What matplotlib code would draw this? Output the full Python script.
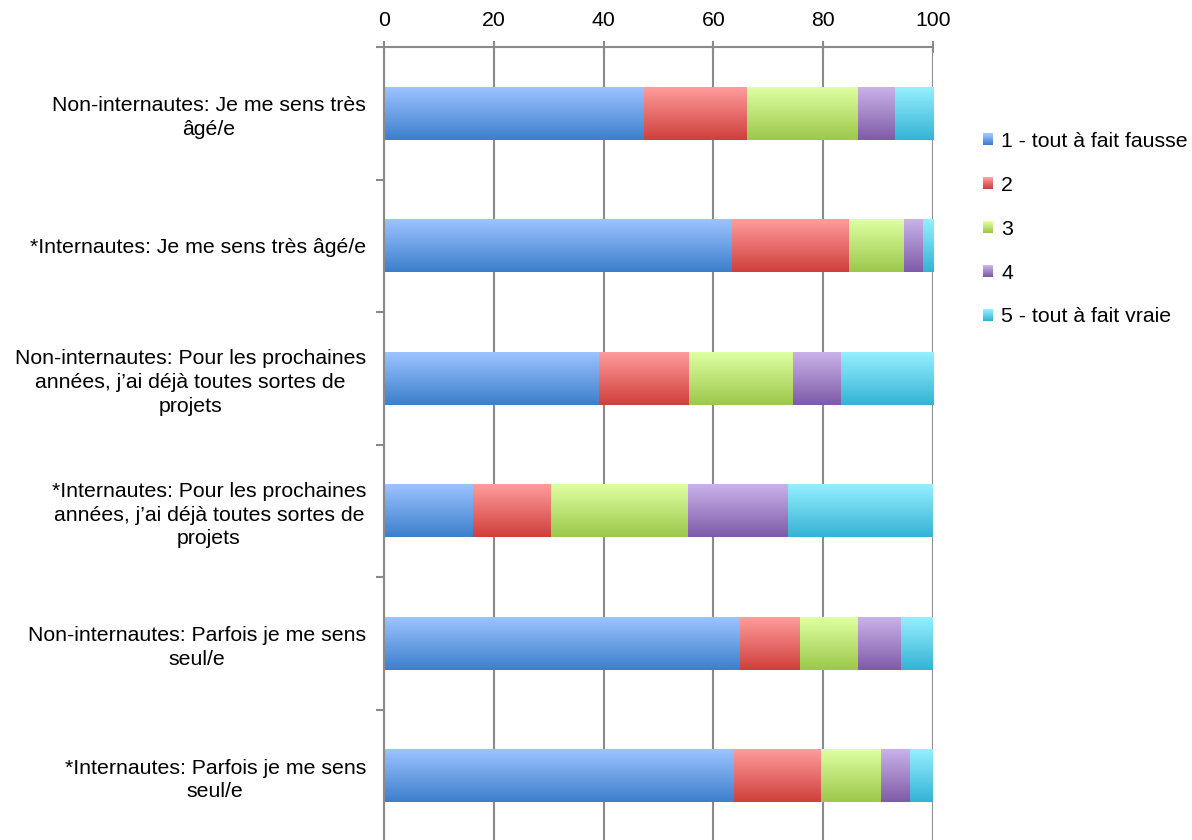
import numpy as np
import matplotlib
matplotlib.use("Agg")
import matplotlib.pyplot as plt
from matplotlib.patches import Rectangle
from matplotlib.legend_handler import HandlerBase
from matplotlib.colors import to_rgb

plt.rcParams['font.family'] = ['Liberation Sans', 'DejaVu Sans']

categories = [
    "Non-internautes: Je me sens très\nâgé/e",
    "*Internautes: Je me sens très âgé/e",
    "Non-internautes: Pour les prochaines\nannées, j’ai déjà toutes sortes de\nprojets",
    "*Internautes: Pour les prochaines\nannées, j’ai déjà toutes sortes de\nprojets",
    "Non-internautes: Parfois je me sens\nseul/e",
    "*Internautes: Parfois je me sens\nseul/e",
]
series_names = ["1 - tout à fait fausse", "2", "3", "4", "5 - tout à fait vraie"]
s1 = [47.4, 63.3, 39.2, 16.2, 64.8, 63.7]
s2 = [18.7, 21.4, 16.4, 14.3, 11.0, 15.9]
s3 = [20.2, 10.0, 18.9, 24.9, 10.5, 10.9]
s4 = [6.7, 3.4, 8.7, 18.2, 7.9, 5.4]
s5 = [7.0, 1.9, 16.8, 26.4, 5.8, 4.1]
x_ticks = [0, 20, 40, 60, 80, 100]

# gradient colours (top, bottom) for each series
grad = [
    ("#9cc3ff", "#3d7fcc"),
    ("#ff9c9c", "#cf3f3c"),
    ("#deffa2", "#9cc84b"),
    ("#c9b2ea", "#7e5ba7"),
    ("#96efff", "#35b3d5"),
]

FS = 15.3


def ramp(top, bottom, n=64):
    t = np.linspace(0, 1, n)[:, None]
    a, b = np.array(to_rgb(top)), np.array(to_rgb(bottom))
    col = a * (1 - t) + b * t
    return np.repeat(col[:, None, :], 2, axis=1)


class GradientHandler(HandlerBase):
    def create_artists(self, legend, orig_handle, xdescent, ydescent,
                       width, height, fontsize, trans):
        top, bottom = orig_handle.grad
        n = 12
        arts = []
        a, b = np.array(to_rgb(top)), np.array(to_rgb(bottom))
        for i in range(n):
            t = i / (n - 1)
            c = a * t + b * (1 - t)
            arts.append(Rectangle((-xdescent, -ydescent + height * i / n), width,
                                  height / n + 0.3, facecolor=c, edgecolor='none',
                                  transform=trans))
        return arts


fig = plt.figure(figsize=(11.92, 8.40), dpi=100)
ax = fig.add_axes([384 / 1192, (840 - 842) / 840, (933 - 384) / 1192, (842 - 47) / 840])

y = np.arange(len(categories))
h = 0.4
left = np.zeros(len(categories))
handles = []
for vals, name, (ctop, cbot) in zip([s1, s2, s3, s4, s5], series_names, grad):
    bars = ax.barh(y, vals, height=h, left=left, color=cbot, edgecolor='none',
                   zorder=2, label=name)
    for rect in bars:
        x0, w = rect.get_x(), rect.get_width()
        yc = rect.get_y() + rect.get_height() / 2
        im = ax.imshow(ramp(ctop, cbot), extent=(x0, x0 + w, yc + h / 2, yc - h / 2),
                       origin='upper', aspect='auto', interpolation='bilinear',
                       zorder=2.5)
        im.set_clip_path(rect)
    hd = Rectangle((0, 0), 1, 1)
    hd.grad = (ctop, cbot)
    handles.append(hd)
    left = left + np.array(vals)

ax.set_xlim(0, 100)
ax.set_ylim(len(categories) - 0.5, -0.5)

gray = '#8a8a8a'
ax.xaxis.tick_top()
ax.set_xticks(x_ticks)
ax.set_xticklabels([str(v) for v in x_ticks])
ax.tick_params(axis='x', which='major', direction='inout', length=8, width=1.5,
               color=gray, labelsize=FS, pad=8, top=True, bottom=False)
ax.xaxis.grid(True, color=gray, lw=1.5)
ax.set_axisbelow(True)

ax.set_yticks(y)
ax.set_yticklabels(categories, multialignment='center', linespacing=1.31)
ax.set_yticks(np.arange(-0.5, len(categories) + 0.5, 1), minor=True)
ax.tick_params(axis='y', which='major', length=0, labelsize=FS, pad=13)
ax.tick_params(axis='y', which='minor', length=6, width=1.5, color=gray)

for side in ['right', 'bottom']:
    ax.spines[side].set_visible(False)
for side in ['left', 'top']:
    ax.spines[side].set_color(gray)
    ax.spines[side].set_linewidth(1.5)

fig.legend(handles, series_names, handler_map={Rectangle: GradientHandler()},
           loc='upper left', bbox_to_anchor=(983 / 1192, 1 - 132 / 840),
           frameon=False, fontsize=FS, handlelength=0.45, handleheight=0.45,
           handletextpad=0.4, labelspacing=1.17, borderpad=0, borderaxespad=0)

fig.savefig('out.png', dpi=100)
